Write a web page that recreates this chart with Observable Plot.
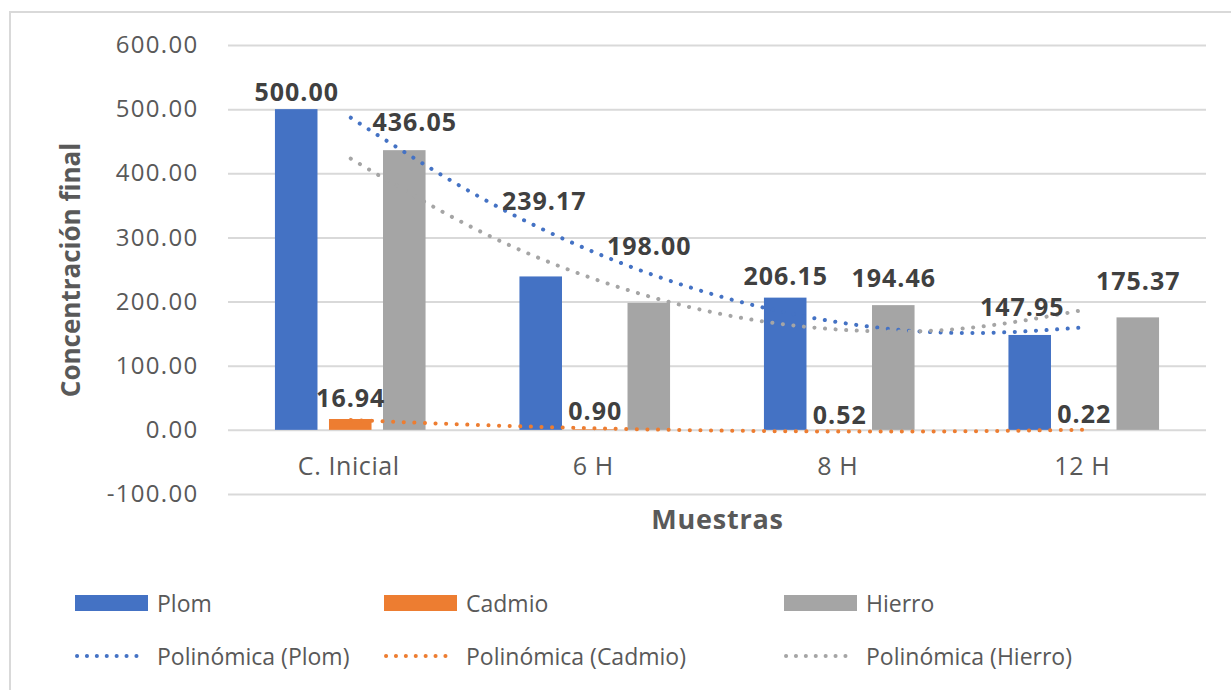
<!DOCTYPE html>
<html>
<head>
<meta charset="utf-8">
<script src="https://cdn.jsdelivr.net/npm/d3@7"></script>
<script src="https://cdn.jsdelivr.net/npm/@observablehq/plot@0.6"></script>
<style>
  html, body { margin: 0; padding: 0; background: #fff; overflow: hidden; }
  body { width: 1231px; height: 690px; position: relative; font-family: "Open Sans", "DejaVu Sans", sans-serif; }
  #frame { position: absolute; left: 9px; top: 11px; width: 1400px; height: 900px;
           border-left: 2px solid #d9d9d9; border-top: 2px solid #d9d9d9; box-sizing: border-box; }
  #chart { position: absolute; left: 0; top: 0; }
  .leg { position: absolute; display: flex; align-items: center; font-size: 23px; color: #595959; white-space: nowrap; }
  .leg .sw { width: 73px; height: 16px; margin-right: 9px; }
  .leg svg { margin-right: 9px; display: block; }
  .ticklbl text { letter-spacing: 1.3px; }
  .datalbl text { letter-spacing: 1px; }
  .catlbl text { letter-spacing: 0.6px; }
  .xtitle text { letter-spacing: 0.8px; }
</style>
</head>
<body>
<div id="frame"></div>
<div id="chart"></div>
<div id="legend"></div>
<script>
// ---- data ----
const categories = ["C. Inicial", "6 H", "8 H", "12 H"];
const seriesNames = ["Plom", "Cadmio", "Hierro"];
const plom   = [500.00, 239.17, 206.15, 147.95];
const cadmio = [16.94, 0.90, 0.52, 0.22];
const hierro = [436.05, 198.00, 194.46, 175.37];
// polynomial trendlines, read at category positions and half-way points
const trendPos    = [1, 1.5, 2, 2.5, 3, 3.5, 4];
const trendPlom   = [487.4, 369.6, 277.1, 210.0, 168.2, 151.7, 160.6];
const trendCadmio = [16.2, 8.7, 3.2, -0.3, -1.8, -1.4, 1.0];
const trendHierro = [423.6, 315.8, 235.5, 182.5, 157.0, 158.7, 187.9];
const yTicks = [-100, 0, 100, 200, 300, 400, 500, 600];

// ---- styles / layout ----
const colors = ["#4472C4", "#ED7D31", "#A5A5A5"];
const barOffset = [-0.221, 0, 0.221];   // in category units
const barHalf = 0.087;
// label nudges in pixels [series][category]
const labelDx = [[0, 3, 0, -8], [0, 0, 0, 0], [10, 0, 0, 0]];
const labelDy = [[-17, -75, -21, -27], [-20, -18, -14, -15], [-28, -56, -27, -36]];

const values = [plom, cadmio, hierro];
const trends = [trendPlom, trendCadmio, trendHierro];

const bars = [];
values.forEach((arr, s) => arr.forEach((v, i) => bars.push({
  series: seriesNames[s], s, i, v,
  x1: i + 1 + barOffset[s] - barHalf, x2: i + 1 + barOffset[s] + barHalf
})));
const trendData = [];
trends.forEach((arr, s) => arr.forEach((v, k) => trendData.push({series: seriesNames[s], s, x: trendPos[k], v})));

const textColor = "#595959";
const font = "'Open Sans', 'DejaVu Sans', sans-serif";

const labelMarks = bars.map(b => Plot.text([b], {
  x: d => d.i + 1 + barOffset[d.s], y: "v", text: d => d.v.toFixed(2),
  dx: labelDx[b.s][b.i], dy: labelDy[b.s][b.i],
  fontSize: 25, fontWeight: "bold", fill: "#404040", lineAnchor: "middle", textAnchor: "middle",
  className: "datalbl"
}));

const chart = Plot.plot({
  width: 1231, height: 560,
  marginLeft: 228, marginRight: 25, marginTop: 45, marginBottom: 66,
  style: {fontFamily: font, background: "transparent", overflow: "visible"},
  x: {domain: [0.5, 4.5], axis: null},
  y: {domain: [-100, 600], axis: null},
  marks: [
    Plot.gridY(yTicks, {stroke: "#d9d9d9", strokeOpacity: 1, strokeWidth: 2}),
    Plot.axisY(yTicks, {tickSize: 0, tickPadding: 30, tickFormat: d => d.toFixed(2), fontSize: 24, fill: textColor, label: null, className: "ticklbl"}),
    Plot.rectY(bars, {x1: "x1", x2: "x2", y1: 0, y2: "v", fill: d => colors[d.s]}),
    Plot.line(trendData, {x: "x", y: "v", z: "series", stroke: d => colors[d.s], strokeWidth: 4,
      strokeDasharray: "0.1 10.5", strokeLinecap: "round", curve: "natural"}),
    ...labelMarks,
    Plot.text(categories, {x: (d, i) => i + 1, y: 0, text: d => d, dy: 37, dx: -2, fontSize: 25, fill: textColor, lineAnchor: "middle", className: "catlbl"}),
    Plot.text(["Muestras"], {frameAnchor: "bottom", dy: 26, fontSize: 27, fontWeight: "bold", fill: textColor, lineAnchor: "middle", className: "xtitle"}),
    Plot.text(["Concentración final"], {frameAnchor: "left", dx: -157, rotate: -90, fontSize: 26, fontWeight: "bold", fill: textColor, lineAnchor: "middle", textAnchor: "middle"})
  ]
});
document.getElementById("chart").appendChild(chart);

// ---- legend ----
const legend = document.getElementById("legend");
const colX = [75, 384, 784];
seriesNames.forEach((name, s) => {
  const a = document.createElement("div");
  a.className = "leg";
  a.style.left = colX[s] + "px"; a.style.top = (603 - 17) + "px"; a.style.height = "34px";
  a.innerHTML = `<div class="sw" style="background:${colors[s]}"></div><span>${name}</span>`;
  legend.appendChild(a);
  const b = document.createElement("div");
  b.className = "leg";
  b.style.left = colX[s] + "px"; b.style.top = (656 - 17) + "px"; b.style.height = "34px";
  b.innerHTML = `<svg width="73" height="8"><line x1="2" y1="4" x2="71" y2="4" stroke="${colors[s]}" stroke-width="4" stroke-linecap="round" stroke-dasharray="0.1 9.8"/></svg><span>Polinómica (${name})</span>`;
  legend.appendChild(b);
});
</script>
</body>
</html>
